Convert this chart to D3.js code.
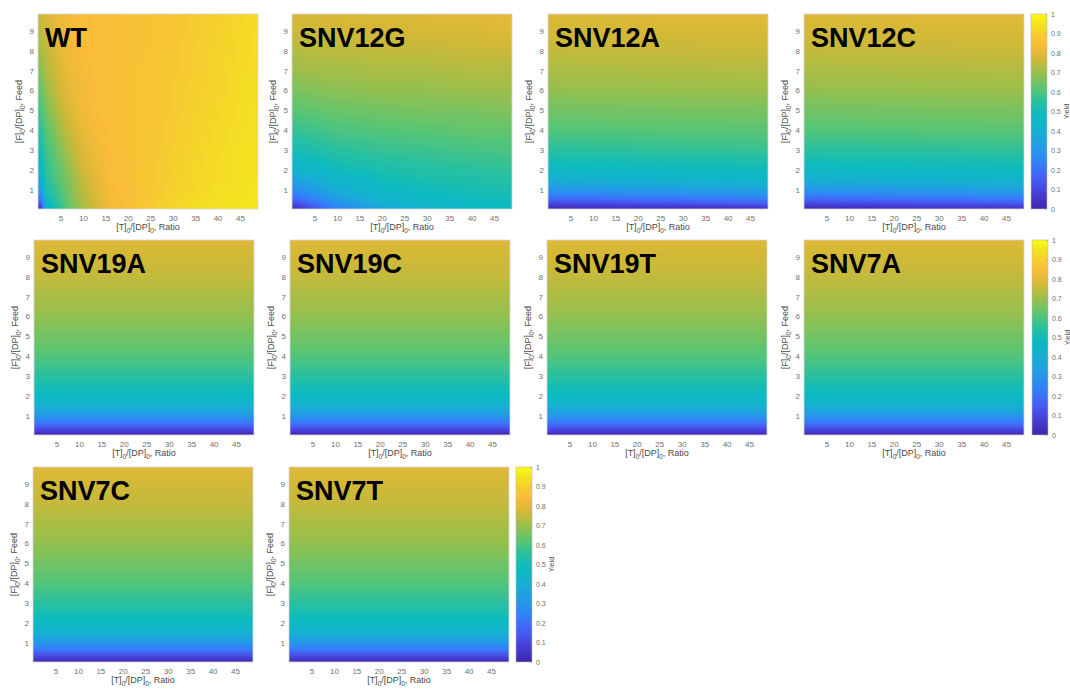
<!DOCTYPE html>
<html>
<head>
<meta charset="utf-8">
<script src="https://cdn.jsdelivr.net/npm/d3@7"></script>
<style>
  body { margin: 0; background: #fff; }
  svg { display: block; }
  text { font-family: "Liberation Sans", Arial, sans-serif; }
</style>
</head>
<body>
<svg id="fig" width="1070" height="689"></svg>
<script>
// Simulated yield vs. template ratio and feed, wild type and SNV variants

const panelNames = ["WT", "SNV12G", "SNV12A", "SNV12C", "SNV19A", "SNV19C", "SNV19T", "SNV7A", "SNV7C", "SNV7T"];
const ratioTicks = [5, 10, 15, 20, 25, 30, 35, 40, 45];
const feedTicks = [1, 2, 3, 4, 5, 6, 7, 8, 9];
const yieldTicks = [0, 0.1, 0.2, 0.3, 0.4, 0.5, 0.6, 0.7, 0.8, 0.9, 1];

// feed levels shared by every grid (rows of the yield tables)
const feedLevels = [0.1, 0.3, 0.6, 1, 1.5, 2, 3, 4, 5, 6, 7, 8, 9, 9.8];

// WT: one row per feed level, one column per ratio
const wtRatios = [0.5, 2, 4, 6, 8, 10, 13, 16, 20, 25, 30, 35, 40, 45, 49];
const wtYield = [
  [0.04, 0.44, 0.53, 0.60, 0.66, 0.71, 0.77, 0.82, 0.85, 0.885, 0.915, 0.935, 0.945, 0.95, 0.955],
  [0.12, 0.46, 0.54, 0.61, 0.67, 0.72, 0.78, 0.825, 0.85, 0.88, 0.91, 0.93, 0.94, 0.95, 0.955],
  [0.22, 0.49, 0.56, 0.62, 0.68, 0.73, 0.785, 0.83, 0.85, 0.878, 0.905, 0.925, 0.938, 0.945, 0.95],
  [0.31, 0.53, 0.58, 0.63, 0.69, 0.74, 0.79, 0.835, 0.85, 0.875, 0.90, 0.92, 0.935, 0.945, 0.95],
  [0.39, 0.55, 0.60, 0.65, 0.70, 0.75, 0.80, 0.84, 0.855, 0.875, 0.895, 0.915, 0.93, 0.94, 0.95],
  [0.45, 0.56, 0.61, 0.66, 0.72, 0.77, 0.81, 0.84, 0.855, 0.875, 0.895, 0.915, 0.93, 0.94, 0.945],
  [0.51, 0.59, 0.64, 0.70, 0.75, 0.79, 0.825, 0.845, 0.855, 0.87, 0.89, 0.91, 0.925, 0.94, 0.945],
  [0.55, 0.62, 0.68, 0.74, 0.78, 0.81, 0.835, 0.85, 0.855, 0.87, 0.885, 0.905, 0.92, 0.935, 0.945],
  [0.59, 0.66, 0.72, 0.77, 0.80, 0.825, 0.84, 0.85, 0.855, 0.865, 0.88, 0.90, 0.915, 0.93, 0.94],
  [0.63, 0.70, 0.75, 0.79, 0.815, 0.83, 0.845, 0.85, 0.855, 0.865, 0.88, 0.895, 0.91, 0.93, 0.94],
  [0.67, 0.73, 0.77, 0.805, 0.825, 0.835, 0.845, 0.85, 0.855, 0.865, 0.875, 0.89, 0.91, 0.925, 0.935],
  [0.71, 0.75, 0.79, 0.815, 0.83, 0.84, 0.85, 0.85, 0.855, 0.86, 0.875, 0.89, 0.905, 0.92, 0.935],
  [0.74, 0.77, 0.80, 0.82, 0.835, 0.845, 0.85, 0.85, 0.855, 0.86, 0.87, 0.885, 0.90, 0.92, 0.93],
  [0.76, 0.785, 0.81, 0.825, 0.84, 0.845, 0.85, 0.85, 0.855, 0.86, 0.87, 0.885, 0.90, 0.915, 0.93]
];

// SNV12G
const snv12gRatios = [0.5, 5, 10, 20, 30, 40, 49];
const snv12gYield = [
  [0.04, 0.14, 0.25, 0.37, 0.43, 0.46, 0.48],
  [0.11, 0.19, 0.29, 0.40, 0.45, 0.47, 0.49],
  [0.19, 0.26, 0.34, 0.43, 0.47, 0.49, 0.50],
  [0.27, 0.33, 0.39, 0.46, 0.49, 0.51, 0.52],
  [0.35, 0.39, 0.44, 0.49, 0.52, 0.53, 0.54],
  [0.42, 0.45, 0.49, 0.52, 0.54, 0.55, 0.56],
  [0.51, 0.53, 0.55, 0.57, 0.58, 0.59, 0.60],
  [0.57, 0.58, 0.60, 0.61, 0.62, 0.63, 0.63],
  [0.62, 0.63, 0.64, 0.65, 0.66, 0.66, 0.67],
  [0.66, 0.67, 0.68, 0.69, 0.69, 0.70, 0.70],
  [0.70, 0.71, 0.71, 0.72, 0.72, 0.73, 0.73],
  [0.73, 0.74, 0.74, 0.75, 0.75, 0.76, 0.76],
  [0.76, 0.76, 0.77, 0.77, 0.78, 0.78, 0.79],
  [0.78, 0.78, 0.78, 0.79, 0.79, 0.80, 0.81]
];

// Remaining variants: yield along the feed levels at the low-ratio and high-ratio edges
const edgeRatios = [0.5, 49];
const snv12aLow  = [0.03, 0.10, 0.20, 0.30, 0.40, 0.46, 0.55, 0.61, 0.65, 0.69, 0.72, 0.75, 0.77, 0.79];
const snv12aHigh = [0.06, 0.15, 0.25, 0.35, 0.44, 0.49, 0.57, 0.62, 0.66, 0.70, 0.73, 0.76, 0.78, 0.80];
const snv12cLow  = [0.03, 0.10, 0.20, 0.30, 0.40, 0.46, 0.55, 0.61, 0.65, 0.69, 0.72, 0.75, 0.77, 0.79];
const snv12cHigh = [0.06, 0.14, 0.24, 0.34, 0.43, 0.48, 0.56, 0.62, 0.66, 0.70, 0.73, 0.76, 0.78, 0.80];
const snv19aLow  = [0.03, 0.10, 0.20, 0.31, 0.41, 0.47, 0.55, 0.61, 0.65, 0.69, 0.72, 0.75, 0.77, 0.79];
const snv19aHigh = [0.03, 0.10, 0.20, 0.31, 0.41, 0.47, 0.55, 0.61, 0.65, 0.69, 0.72, 0.75, 0.77, 0.79];
const snv19cLow  = [0.03, 0.10, 0.20, 0.31, 0.41, 0.47, 0.55, 0.61, 0.65, 0.69, 0.72, 0.75, 0.77, 0.79];
const snv19cHigh = [0.03, 0.10, 0.20, 0.31, 0.41, 0.47, 0.55, 0.61, 0.65, 0.69, 0.72, 0.75, 0.77, 0.79];
const snv19tLow  = [0.03, 0.10, 0.20, 0.31, 0.41, 0.47, 0.55, 0.61, 0.65, 0.69, 0.72, 0.75, 0.77, 0.79];
const snv19tHigh = [0.03, 0.10, 0.20, 0.31, 0.41, 0.47, 0.55, 0.61, 0.65, 0.69, 0.72, 0.75, 0.77, 0.79];
const snv7aLow   = [0.03, 0.10, 0.20, 0.31, 0.41, 0.47, 0.55, 0.61, 0.65, 0.69, 0.72, 0.75, 0.77, 0.79];
const snv7aHigh  = [0.03, 0.10, 0.20, 0.31, 0.41, 0.47, 0.55, 0.61, 0.65, 0.69, 0.72, 0.75, 0.77, 0.79];
const snv7cLow   = [0.03, 0.10, 0.20, 0.31, 0.41, 0.47, 0.55, 0.61, 0.65, 0.69, 0.72, 0.75, 0.77, 0.79];
const snv7cHigh  = [0.03, 0.10, 0.20, 0.31, 0.41, 0.47, 0.55, 0.61, 0.65, 0.69, 0.72, 0.75, 0.77, 0.79];
const snv7tLow   = [0.03, 0.10, 0.20, 0.31, 0.41, 0.47, 0.55, 0.61, 0.65, 0.69, 0.72, 0.75, 0.77, 0.79];
const snv7tHigh  = [0.03, 0.10, 0.20, 0.31, 0.41, 0.47, 0.55, 0.61, 0.65, 0.69, 0.72, 0.75, 0.77, 0.79];

// feed-by-ratio table from a pair of edge profiles
function edgeTable(low, high) {
  return feedLevels.map((_, i) => [low[i], high[i]]);
}

const panelData = [
  { ratios: wtRatios, table: wtYield },
  { ratios: snv12gRatios, table: snv12gYield },
  { ratios: edgeRatios, table: edgeTable(snv12aLow, snv12aHigh) },
  { ratios: edgeRatios, table: edgeTable(snv12cLow, snv12cHigh) },
  { ratios: edgeRatios, table: edgeTable(snv19aLow, snv19aHigh) },
  { ratios: edgeRatios, table: edgeTable(snv19cLow, snv19cHigh) },
  { ratios: edgeRatios, table: edgeTable(snv19tLow, snv19tHigh) },
  { ratios: edgeRatios, table: edgeTable(snv7aLow, snv7aHigh) },
  { ratios: edgeRatios, table: edgeTable(snv7cLow, snv7cHigh) },
  { ratios: edgeRatios, table: edgeTable(snv7tLow, snv7tHigh) }
];

// ---- layout ----
const plotW = 220, plotH = 195;
const panelOrigins = [
  [38, 14], [292, 14], [548, 14], [804, 14],
  [34, 240], [290, 240], [547, 240], [804, 240],
  [33, 467], [289, 467]
];
const colorbarOrigins = [[1031, 14], [1032, 240], [516, 467]];
const cbW = 16;

// ---- parula-style colour map ----
const parulaStops = [
  [0.00, "#3e26a8"], [0.08, "#463ed7"], [0.16, "#465ff5"], [0.24, "#3282f8"],
  [0.32, "#239be6"], [0.40, "#16afd2"], [0.48, "#0cbac0"], [0.55, "#28c0a0"],
  [0.62, "#5ac573"], [0.70, "#9bbf4b"], [0.77, "#d2b837"], [0.84, "#fabb3a"],
  [0.90, "#f5d02d"], [0.95, "#f3e420"], [1.00, "#f9fb14"]
];
const colorScale = d3.scaleLinear()
  .domain(parulaStops.map(d => d[0]))
  .range(parulaStops.map(d => d[1]))
  .interpolate(d3.interpolateRgb)
  .clamp(true);
const lut = d3.range(256).map(i => d3.rgb(colorScale(i / 255)));

const svg = d3.select("#fig");
const tickGray = "#6f6f6f";
const labelGray = "#4a4a4a";

// label text with subscripted zeros
function subLabel(sel, parts, size) {
  const shift = size * 0.3;
  let lowered = false;
  parts.forEach(p => {
    const t = sel.append("tspan").text(p.t);
    if (p.sub) {
      t.attr("font-size", size * 0.72).attr("dy", shift);
      lowered = true;
    } else if (lowered) {
      t.attr("dy", -shift);
      lowered = false;
    }
  });
}

panelNames.forEach((name, k) => {
  const [left, top] = panelOrigins[k];
  const x = d3.scaleLinear().domain([0, 49]).range([left, left + plotW]);
  const y = d3.scaleLinear().domain([0.03, 9.84]).range([top + plotH, top]);
  const { ratios, table } = panelData[k];

  // per-column profiles along feed
  const columns = ratios.map((_, c) =>
    d3.scaleLinear().domain(feedLevels).range(table.map(row => row[c])).clamp(true));

  const canvas = document.createElement("canvas");
  canvas.width = plotW; canvas.height = plotH;
  const ctx = canvas.getContext("2d");
  const img = ctx.createImageData(plotW, plotH);
  for (let py = 0; py < plotH; py++) {
    const f = y.invert(top + py + 0.5);
    const across = d3.scaleLinear().domain(ratios).range(columns.map(s => s(f))).clamp(true);
    for (let px = 0; px < plotW; px++) {
      const v = across(x.invert(left + px + 0.5));
      const c = lut[Math.max(0, Math.min(255, Math.round(v * 255)))];
      const o = (py * plotW + px) * 4;
      img.data[o] = c.r; img.data[o + 1] = c.g; img.data[o + 2] = c.b; img.data[o + 3] = 255;
    }
  }
  ctx.putImageData(img, 0, 0);

  const g = svg.append("g").attr("class", "panel");
  g.append("image")
    .attr("x", x(0)).attr("y", y(9.84))
    .attr("width", x(49) - x(0)).attr("height", y(0.03) - y(9.84))
    .attr("preserveAspectRatio", "none")
    .attr("href", canvas.toDataURL());

  g.append("rect")
    .attr("x", x(0)).attr("y", y(9.84))
    .attr("width", x(49) - x(0)).attr("height", y(0.03) - y(9.84))
    .attr("fill", "none").attr("stroke", "#d6d6d6").attr("stroke-width", 0.8);

  // axes
  const xAxis = d3.axisBottom(x).tickValues(ratioTicks).tickSize(0).tickPadding(6);
  const yAxis = d3.axisLeft(y).tickValues(feedTicks).tickSize(0).tickPadding(4);
  const gx = g.append("g").attr("transform", `translate(0,${top + plotH})`).call(xAxis);
  const gy = g.append("g").attr("transform", `translate(${left},0)`).call(yAxis);
  [gx, gy].forEach(a => {
    a.select(".domain").remove();
    a.selectAll("text").attr("fill", tickGray).attr("font-size", 8)
      .attr("font-family", "Liberation Sans, Arial, sans-serif");
  });

  const xl = g.append("text")
    .attr("x", left + plotW / 2).attr("y", top + plotH + 21)
    .attr("text-anchor", "middle").attr("font-size", 9).attr("fill", labelGray);
  subLabel(xl, [{ t: "[T]" }, { t: "0", sub: true }, { t: "/[DP]" }, { t: "0", sub: true }, { t: ", Ratio" }], 9);

  const yl = g.append("text")
    .attr("transform", `translate(${left - 16},${top + plotH / 2}) rotate(-90)`)
    .attr("text-anchor", "middle").attr("font-size", 9).attr("fill", labelGray);
  subLabel(yl, [{ t: "[F]" }, { t: "0", sub: true }, { t: "/[DP]" }, { t: "0", sub: true }, { t: ", Feed" }], 9);

  g.append("text")
    .attr("x", left + 7).attr("y", top + 33)
    .attr("font-size", 27).attr("font-weight", "bold").attr("fill", "#000")
    .text(name);
});

// ---- colour bars ----
const defs = svg.append("defs");
const grad = defs.append("linearGradient").attr("id", "parula")
  .attr("x1", 0).attr("y1", 1).attr("x2", 0).attr("y2", 0);
grad.selectAll("stop").data(parulaStops).join("stop")
  .attr("offset", d => d[0]).attr("stop-color", d => d[1]);

colorbarOrigins.forEach(([cx, cy]) => {
  const s = d3.scaleLinear().domain([0, 1]).range([cy + plotH, cy]);
  const g = svg.append("g").attr("class", "colorbar");
  g.append("rect").attr("x", cx).attr("y", s(1)).attr("width", cbW).attr("height", s(0) - s(1))
    .attr("fill", "url(#parula)").attr("stroke", "#bdbdbd").attr("stroke-width", 0.6);
  const ax = d3.axisRight(s).tickValues(yieldTicks).tickSize(-2).tickPadding(4)
    .tickFormat(d3.format("~g"));
  const ga = g.append("g").attr("transform", `translate(${cx + cbW},0)`).call(ax);
  ga.select(".domain").remove();
  ga.selectAll("line").attr("stroke", "#9a9a9a").attr("stroke-width", 0.5);
  ga.selectAll("text").attr("fill", tickGray).attr("font-size", 7)
    .attr("font-family", "Liberation Sans, Arial, sans-serif");
  g.append("text")
    .attr("transform", `translate(${cx + cbW + 22},${cy + plotH / 2}) rotate(-90)`)
    .attr("text-anchor", "middle").attr("font-size", 7).attr("fill", labelGray)
    .text("Yield");
});
</script>
</body>
</html>
